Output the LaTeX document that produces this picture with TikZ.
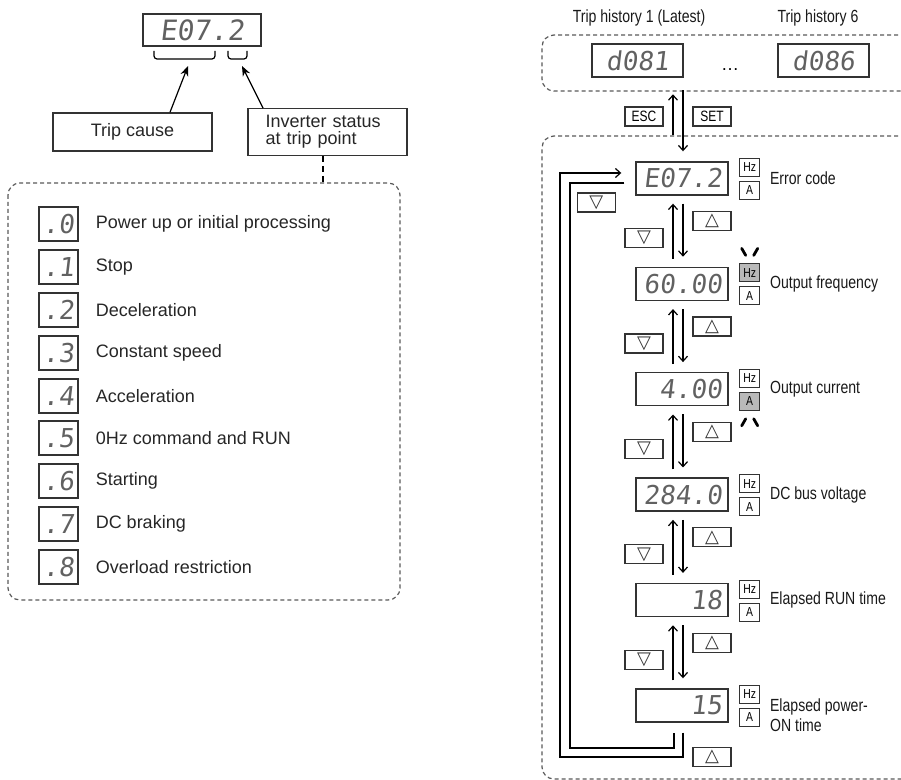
\documentclass[tikz,border=0pt]{standalone}
\usepackage{fontspec}
\setmainfont{Liberation Sans}
\newfontfamily\narrowfont[FakeStretch=0.8]{Liberation Sans}
\newfontfamily\segfont[FakeSlant=0.12]{DejaVu Sans Mono}
\newfontfamily\symfont{DejaVu Sans}
\usetikzlibrary{arrows.meta, positioning, calc}

\begin{document}
\begin{tikzpicture}[
		x=0.5pt, y=-0.5pt,
		% Styles
		segbox/.style={draw=black!80, line width=0.7pt, minimum height=16.5pt, inner sep=0pt, font=\segfont\fontsize{13}{13}\selectfont, text=black!62},
		segval/.style={segbox, minimum width=46pt, text width=40pt, align=right},
		iconbox/.style={segbox, minimum width=19.5pt, minimum height=17pt},
		labelbox/.style={draw=black!80, line width=0.7pt, minimum width=79.5pt, minimum height=19pt, font=\fontsize{9}{8.5}\selectfont, text=black!85},
		keybox/.style={draw=black!80, line width=0.6pt, minimum width=19pt, minimum height=9.5pt, inner sep=0pt, font=\narrowfont\fontsize{7.5}{7.5}\selectfont},
		trikey/.style={keybox, font=\symfont\fontsize{9}{9}\selectfont, text=black!80},
		unitbox/.style={draw=black!80, line width=0.5pt, minimum width=10pt, minimum height=9pt, inner sep=0pt, font=\narrowfont\fontsize{6.5}{6.5}\selectfont},
		unitlit/.style={unitbox, fill=gray!55},
		itemtext/.style={font=\fontsize{9}{10}\selectfont, text=black!85},
		rlabel/.style={anchor=west, inner sep=1pt, font=\narrowfont\fontsize{8.8}{10}\selectfont, align=left, text=black!90},
		groupbox/.style={draw=black!65, line width=0.6pt, dash pattern=on 2pt off 1.5pt, rounded corners=6pt},
		arrow/.style={-{Stealth[length=5pt, width=4pt]}, line width=0.6pt},
		navarrow/.style={-{Straight Barb[length=2.5pt, width=4.5pt]}, line width=0.6pt},
		blink/.style={line width=1.4pt, line cap=round}
		]
		\useasboundingbox (0,0) rectangle (901,780);
		
		% =========================================================
		% 1. LEFT SIDE: error code and its two parts
		% =========================================================
		\node[segbox, minimum width=59pt, minimum height=16pt, font=\segfont\fontsize{14}{14}\selectfont] (code) at (202,30) {E07.2};
		\draw[line width=0.6pt, rounded corners=1.5pt] (154,51) -- (154,59) -- (215,59) -- (215,51);
		\draw[line width=0.6pt, rounded corners=1.5pt] (228,51) -- (228,59) -- (247,59) -- (247,51);
		\coordinate (causetip) at (188,66);
		\coordinate (statustip) at (242,66);
		
		\node[labelbox] (cause) at (132.5,132) {Trip cause};
		\node[labelbox, text width=62pt, align=left] (status) at (327.5,132) {Inverter status\\at trip point};
		
		\draw[arrow] ($(cause.north)+(37.5,0)$) -- (causetip);
		\draw[arrow] ($(status.north)+(-64.5,0)$) -- (statustip);
		
		% Status list
		\coordinate (listtop) at (323,183);
		\draw[densely dashed, line width=0.7pt] (status.south -| listtop) -- (listtop);
		\draw[groupbox] (8,183) rectangle (400,600);
		
		\node[iconbox] (s0) at (58.5,224) {.0};
		\node[itemtext, right=5pt of s0] (t0) {Power up or initial processing};
		\node[iconbox] (s1) at (58.5,267) {.1};
		\node[itemtext, right=5pt of s1] (t1) {Stop};
		\node[iconbox] (s2) at (58.5,310) {.2};
		\node[itemtext, right=5pt of s2] (t2) {Deceleration};
		\node[iconbox] (s3) at (58.5,353) {.3};
		\node[itemtext, right=5pt of s3] (t3) {Constant speed};
		\node[iconbox] (s4) at (58.5,396) {.4};
		\node[itemtext, right=5pt of s4] (t4) {Acceleration};
		\node[iconbox] (s5) at (58.5,438) {.5};
		\node[itemtext, right=5pt of s5] (t5) {0Hz command and RUN};
		\node[iconbox] (s6) at (58.5,481) {.6};
		\node[itemtext, right=5pt of s6] (t6) {Starting};
		\node[iconbox] (s7) at (58.5,524) {.7};
		\node[itemtext, right=5pt of s7] (t7) {DC braking};
		\node[iconbox] (s8) at (58.5,567) {.8};
		\node[itemtext, right=5pt of s8] (t8) {Overload restriction};
		
		% =========================================================
		% 2. RIGHT SIDE: trip history
		% =========================================================
		\node[rlabel, anchor=center] (hist1) at (639,18) {Trip history 1 (Latest)};
		\node[rlabel, anchor=center] (hist6) at (818,18) {Trip history 6};
		\draw[groupbox] (905,35) -- (542,35) -- (542,91) -- (905,91);
		\node[segbox, minimum width=45.5pt] (h1) at (637.5,60.5) {d081};
		\node[segbox, minimum width=45.5pt] (h6) at (823.5,60.5) {d086};
		\node[font=\fontsize{9}{9}\selectfont] (more) at (730,70) {\dots};
		
		% =========================================================
		% 3. RIGHT SIDE: monitor chain
		% =========================================================
		\draw[groupbox] (905,136) -- (542,136) -- (542,779) -- (905,779);
		
		\node[segval] (d1) at (682,178.5) {E07.2};
		\node[segval, below=35.5pt of d1] (d2) {60.00};
		\node[segval, below=35.5pt of d2] (d3) {4.00};
		\node[segval, below=35.5pt of d3] (d4) {284.0};
		\node[segval, below=35.5pt of d4] (d5) {18};
		\node[segval, below=35.5pt of d5] (d6) {15};
		
		% ESC / SET
		\node[keybox] (esc) at (644,116.5) {ESC};
		\node[keybox] (set) at (712,116.5) {SET};
		\draw[navarrow] ($(d1.north)+(-9,-26)$) -- ($(d1.north)+(-9,-67)$);
		\draw[navarrow] ($(d1.north)+(1,-71)$) -- ($(d1.north)+(1,-10)$);
		
		% Hz / A lamps and labels
		\node[unitbox] (hz1) at ($(d1.east)+(21,-11)$) {Hz};
		\node[unitbox] (a1) at ($(d1.east)+(21,12)$) {A};
		\node[rlabel] (l1) at ($(d1.east)+(39,0)$) {Error code};
		\node[unitlit] (hz2) at ($(d2.east)+(21,-11)$) {Hz};
		\node[unitbox] (a2) at ($(d2.east)+(21,12)$) {A};
		\node[rlabel] (l2) at ($(d2.east)+(39,0)$) {Output frequency};
		\node[unitbox] (hz3) at ($(d3.east)+(21,-11)$) {Hz};
		\node[unitlit] (a3) at ($(d3.east)+(21,12)$) {A};
		\node[rlabel] (l3) at ($(d3.east)+(39,0)$) {Output current};
		\node[unitbox] (hz4) at ($(d4.east)+(21,-11)$) {Hz};
		\node[unitbox] (a4) at ($(d4.east)+(21,12)$) {A};
		\node[rlabel] (l4) at ($(d4.east)+(39,0)$) {DC bus voltage};
		\node[unitbox] (hz5) at ($(d5.east)+(21,-11)$) {Hz};
		\node[unitbox] (a5) at ($(d5.east)+(21,12)$) {A};
		\node[rlabel] (l5) at ($(d5.east)+(39,0)$) {Elapsed RUN time};
		\node[unitbox] (hz6) at ($(d6.east)+(21,-11)$) {Hz};
		\node[unitbox] (a6) at ($(d6.east)+(21,12)$) {A};
		\node[rlabel] (l6) at ($(d6.east)+(39,10)$) {Elapsed power-\\ON time};
		
		% blinking lamps
		\draw[blink] ($(hz2.north)+(-8,-15)$) -- ($(hz2.north)+(-4,-8)$);
		\draw[blink] ($(hz2.north)+(8,-15)$) -- ($(hz2.north)+(4,-8)$);
		\draw[blink] ($(a3.south)+(-4,8)$) -- ($(a3.south)+(-8,15)$);
		\draw[blink] ($(a3.south)+(4,8)$) -- ($(a3.south)+(8,15)$);
		
		% Up / down between displays
		\draw[navarrow] ($(d2.north)+(-9,-8)$) -- ($(d1.south)+(-9,8)$);
		\draw[navarrow] ($(d1.south)+(1,8)$) -- ($(d2.north)+(1,-10)$);
		\node[trikey] (up1) at ($(d1.south)!0.5!(d2.north)+(30,-10)$) {△};
		\node[trikey] (dn1) at ($(d1.south)!0.5!(d2.north)+(-38,7)$) {▽};
		
		\draw[navarrow] ($(d3.north)+(-9,-8)$) -- ($(d2.south)+(-9,8)$);
		\draw[navarrow] ($(d2.south)+(1,8)$) -- ($(d3.north)+(1,-10)$);
		\node[trikey] (up2) at ($(d2.south)!0.5!(d3.north)+(30,-10)$) {△};
		\node[trikey] (dn2) at ($(d2.south)!0.5!(d3.north)+(-38,7)$) {▽};
		
		\draw[navarrow] ($(d4.north)+(-9,-8)$) -- ($(d3.south)+(-9,8)$);
		\draw[navarrow] ($(d3.south)+(1,8)$) -- ($(d4.north)+(1,-10)$);
		\node[trikey] (up3) at ($(d3.south)!0.5!(d4.north)+(30,-10)$) {△};
		\node[trikey] (dn3) at ($(d3.south)!0.5!(d4.north)+(-38,7)$) {▽};
		
		\draw[navarrow] ($(d5.north)+(-9,-8)$) -- ($(d4.south)+(-9,8)$);
		\draw[navarrow] ($(d4.south)+(1,8)$) -- ($(d5.north)+(1,-10)$);
		\node[trikey] (up4) at ($(d4.south)!0.5!(d5.north)+(30,-10)$) {△};
		\node[trikey] (dn4) at ($(d4.south)!0.5!(d5.north)+(-38,7)$) {▽};
		
		\draw[navarrow] ($(d6.north)+(-9,-8)$) -- ($(d5.south)+(-9,8)$);
		\draw[navarrow] ($(d5.south)+(1,8)$) -- ($(d6.north)+(1,-10)$);
		\node[trikey] (up5) at ($(d5.south)!0.5!(d6.north)+(30,-10)$) {△};
		\node[trikey] (dn5) at ($(d5.south)!0.5!(d6.north)+(-38,7)$) {▽};
		
		% Wrap-around loop
		\draw[navarrow] ($(d6.south)+(1,10)$) |- (560,757) |- ($(d1.west)+(-14,-5.5)$);
		\draw[line width=0.6pt] ($(d1.west)+(-11,4.5)$) -| (570,748) -| ($(d6.south)+(-8,10)$);
		\node[trikey] (dnloop) at ($(d1.west)+(-39,24)$) {▽};
		\node[trikey] (uploop) at ($(d6.south)+(30,34)$) {△};
		
	\end{tikzpicture}
\end{document}
